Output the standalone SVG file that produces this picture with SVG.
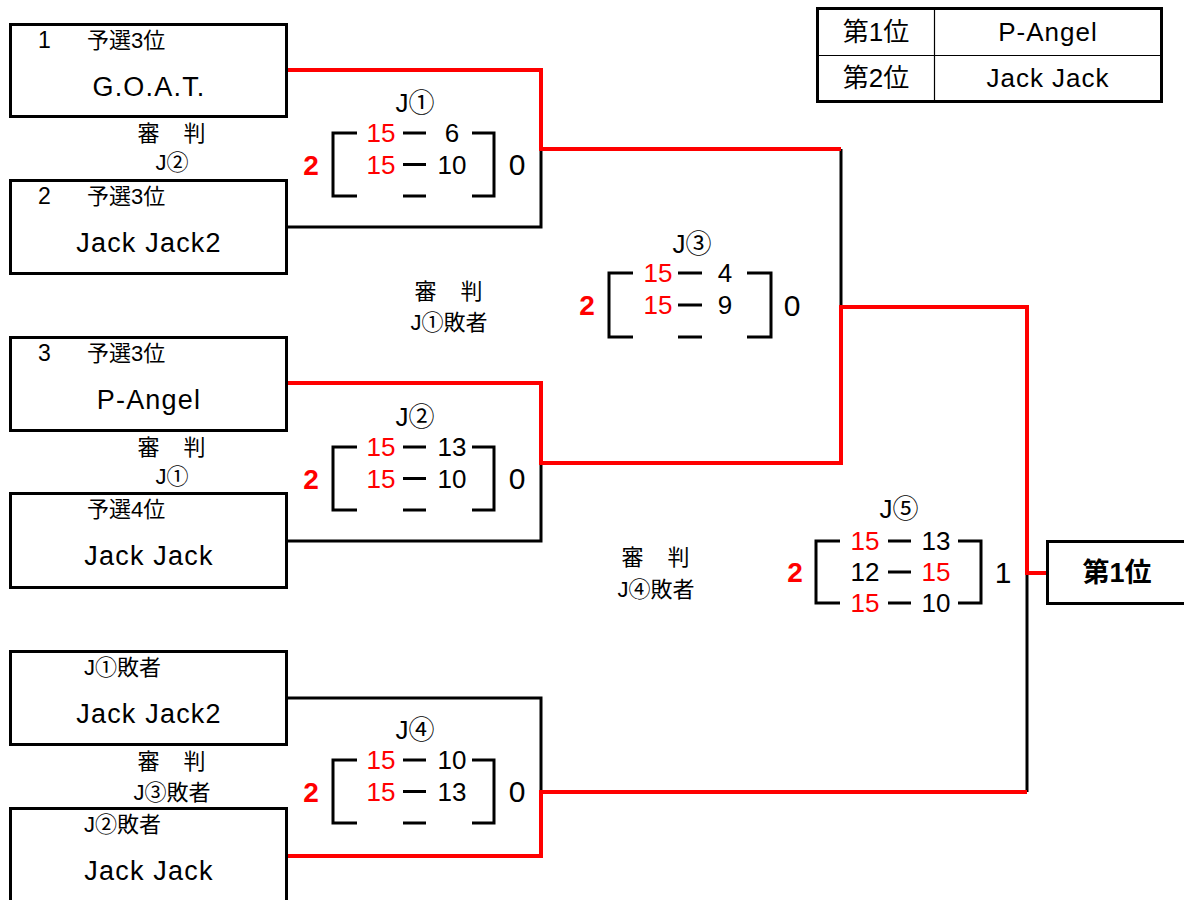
<svg xmlns="http://www.w3.org/2000/svg" width="1184" height="900" viewBox="0 0 1184 900">
<style>
text{font-family:"Liberation Sans","Noto Sans CJK JP",sans-serif;fill:#000}
.box{fill:#fff;stroke:#000;stroke-width:3}
.nm{font-size:27px;text-anchor:middle;letter-spacing:1.2px}
.lb{font-size:22px}
.num{font-size:23px}
.ref{font-size:22px;text-anchor:middle}
.sc{font-size:26px;text-anchor:middle}
.r{fill:#f00}
.big{font-size:30px;text-anchor:middle}
.bigr{font-size:28px;text-anchor:middle;font-weight:bold;fill:#f00}
.br{fill:none;stroke:#000;stroke-width:3}
.bl{fill:none;stroke:#000;stroke-width:3}
.rd{fill:none;stroke:#f00;stroke-width:4}
.tb{font-size:26px;text-anchor:middle}
</style>
<rect width="1184" height="900" fill="#fff"/>

<g id="connectors">
<path class="bl" d="M287,227 H541 V149"/>
<path class="bl" d="M541,463 V541 H287"/>
<path class="bl" d="M841,149 V307"/>
<path class="bl" d="M287,698 H541 V792"/>
<path class="bl" d="M1027,573 V792"/>
<path class="rd" d="M287,70 H541 V149 H841"/>
<path class="rd" d="M287,383 H541 V463 H841 V307 H1027 V573 H1047"/>
<path class="rd" d="M287,856 H541 V792 H1027"/>
</g>

<g id="team1">
<rect class="box" x="10.5" y="24.5" width="276" height="92"/>
<text class="num" x="38" y="48">1</text>
<text class="lb" x="87" y="48">予選3位</text>
<text class="nm" x="149" y="96">G.O.A.T.</text>
</g>
<g id="ref1">
<text class="ref" x="172" y="141" style="letter-spacing:1px">審　判</text>
<text class="ref" x="172" y="170">J②</text>
</g>
<g id="team2">
<rect class="box" x="10.5" y="180.5" width="276" height="93"/>
<text class="num" x="38" y="204">2</text>
<text class="lb" x="87" y="204">予選3位</text>
<text class="nm" x="149" y="252">Jack Jack2</text>
</g>

<g id="team3">
<rect class="box" x="10.5" y="337.5" width="276" height="93"/>
<text class="num" x="38" y="361">3</text>
<text class="lb" x="87" y="361">予選3位</text>
<text class="nm" x="149" y="409">P-Angel</text>
</g>
<g id="ref2">
<text class="ref" x="172" y="455" style="letter-spacing:1px">審　判</text>
<text class="ref" x="172" y="484">J①</text>
</g>
<g id="team4">
<rect class="box" x="10.5" y="493.5" width="276" height="94"/>
<text class="lb" x="87" y="517">予選4位</text>
<text class="nm" x="149" y="565">Jack Jack</text>
</g>

<g id="team5">
<rect class="box" x="10.5" y="651.5" width="276" height="93"/>
<text class="lb" x="84" y="675">J①敗者</text>
<text class="nm" x="149" y="723">Jack Jack2</text>
</g>
<g id="ref4">
<text class="ref" x="172" y="769" style="letter-spacing:1px">審　判</text>
<text class="ref" x="172" y="800">J③敗者</text>
</g>
<g id="team6">
<rect class="box" x="10.5" y="808.5" width="276" height="100"/>
<text class="lb" x="84" y="832">J②敗者</text>
<text class="nm" x="149" y="880">Jack Jack</text>
</g>

<g id="ref3">
<text class="ref" x="449" y="299" style="letter-spacing:1px">審　判</text>
<text class="ref" x="449" y="330">J①敗者</text>
</g>
<g id="ref5">
<text class="ref" x="656" y="565" style="letter-spacing:1px">審　判</text>
<text class="ref" x="656" y="597">J④敗者</text>
</g>

<g id="match1" transform="translate(333,133)">
<text class="sc" x="82" y="-21">J①</text>
<path class="br" d="M24,0 H0 V63 H24 M139,0 H161 V63 H139 M70,0 H93 M70,31.5 H93 M70,63 H93"/>
<text class="sc r" x="48" y="9">15</text><text class="sc" x="119" y="9">6</text>
<text class="sc r" x="48" y="40.5">15</text><text class="sc" x="119" y="40.5">10</text>
<text class="bigr" x="-22" y="41.5">2</text>
<text class="big" x="184" y="42">0</text>
</g>

<g id="match2" transform="translate(333,447)">
<text class="sc" x="82" y="-21">J②</text>
<path class="br" d="M24,0 H0 V63 H24 M139,0 H161 V63 H139 M70,0 H93 M70,31.5 H93 M70,63 H93"/>
<text class="sc r" x="48" y="9">15</text><text class="sc" x="119" y="9">13</text>
<text class="sc r" x="48" y="40.5">15</text><text class="sc" x="119" y="40.5">10</text>
<text class="bigr" x="-22" y="41.5">2</text>
<text class="big" x="184" y="42">0</text>
</g>

<g id="match3" transform="translate(609,273)">
<text class="sc" x="83" y="-20">J③</text>
<path class="br" d="M24,0 H0 V64 H24 M138,0 H162 V64 H138 M69,0 H93 M69,32 H93 M69,64 H93"/>
<text class="sc r" x="49" y="9">15</text><text class="sc" x="116" y="9">4</text>
<text class="sc r" x="49" y="41">15</text><text class="sc" x="116" y="41">9</text>
<text class="bigr" x="-22" y="42">2</text>
<text class="big" x="183" y="42.5">0</text>
</g>

<g id="match4" transform="translate(333,760)">
<text class="sc" x="82" y="-21">J④</text>
<path class="br" d="M24,0 H0 V63 H24 M139,0 H161 V63 H139 M70,0 H93 M70,31.5 H93 M70,63 H93"/>
<text class="sc r" x="48" y="9">15</text><text class="sc" x="119" y="9">10</text>
<text class="sc r" x="48" y="40.5">15</text><text class="sc" x="119" y="40.5">13</text>
<text class="bigr" x="-22" y="41.5">2</text>
<text class="big" x="184" y="42">0</text>
</g>

<g id="match5" transform="translate(816,541)">
<text class="sc" x="83" y="-23">J⑤</text>
<path class="br" d="M24,0 H0 V62 H24 M142,0 H165 V62 H142 M72,0 H95 M72,31 H95 M72,62 H95"/>
<text class="sc r" x="49" y="9">15</text><text class="sc" x="120" y="9">13</text>
<text class="sc" x="49" y="40">12</text><text class="sc r" x="120" y="40">15</text>
<text class="sc r" x="49" y="71">15</text><text class="sc" x="120" y="71">10</text>
<text class="bigr" x="-21" y="41">2</text>
<text class="big" x="187" y="41.5">1</text>
</g>

<g id="winner">
<rect class="box" x="1047.5" y="541.5" width="150" height="62"/>
<text x="1117" y="582" style="font-size:27px;font-weight:bold;text-anchor:middle">第1位</text>
</g>

<g id="results">
<rect x="817.5" y="8.5" width="344" height="93" fill="#fff" stroke="#000" stroke-width="3"/>
<path d="M817,55.5 H1162 M934.5,8 V102" stroke="#000" stroke-width="1.2" fill="none"/>
<text class="tb" x="876" y="41">第1位</text>
<text class="tb" x="1048" y="41" style="letter-spacing:1px">P-Angel</text>
<text class="tb" x="876" y="87">第2位</text>
<text class="tb" x="1048" y="87" style="letter-spacing:1px">Jack Jack</text>
</g>
</svg>
